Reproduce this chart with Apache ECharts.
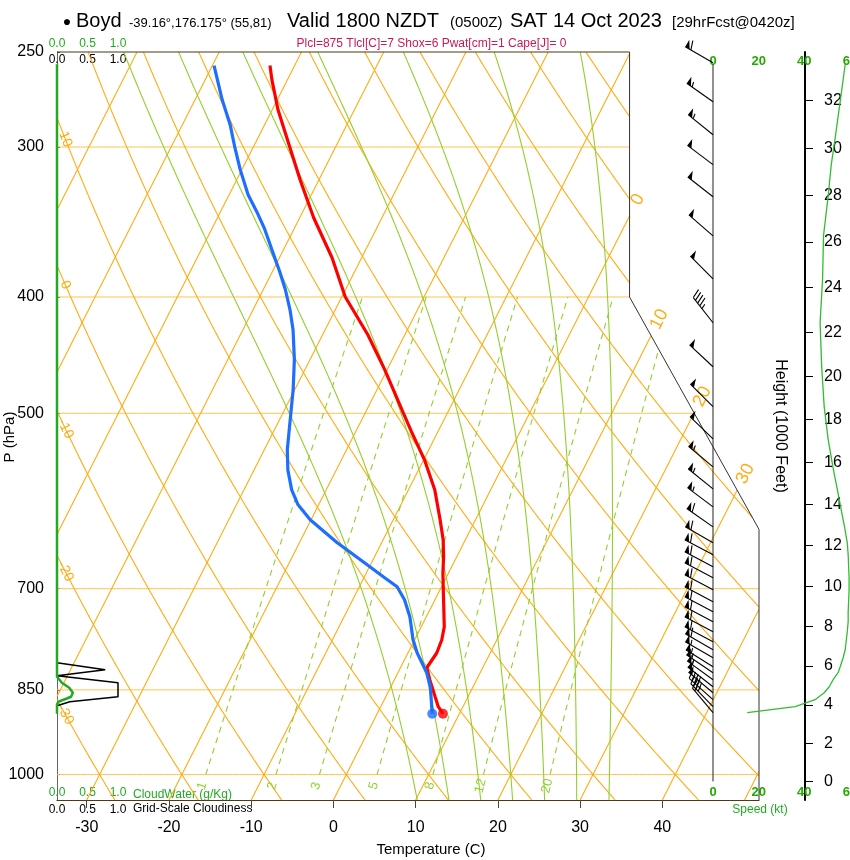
<!DOCTYPE html>
<html><head><meta charset="utf-8">
<script src="https://cdn.jsdelivr.net/npm/echarts@6/dist/echarts.min.js"></script>
<style>html,body{margin:0;padding:0;background:#fff}#c{width:850px;height:860px}</style>
</head><body><div id="c"></div>
<script>
// ================= DATA =================
const TEMP_P = [889.8, 877.9, 861.3, 833.6, 814.7, 806.9, 791.6, 772.1, 753.1, 724.7, 701.5, 678.9, 658.4, 637.3, 613.4, 579.1, 546.7, 518.1, 499.4, 459.8, 430.1, 399.8, 371.0, 343.6, 319.4, 300.4, 279.3, 263.6, 256.6];
const TEMP_C = [8.0, 7.0, 6.0, 4.3, 3.2, 3.3, 3.5, 3.3, 2.8, 1.5, 0.4, -0.7, -1.6, -2.7, -4.3, -6.8, -9.9, -13.2, -15.4, -20.3, -24.5, -29.6, -33.6, -38.3, -42.3, -45.5, -49.3, -51.9, -53.0];
const DEWP_P = [889.8, 877.9, 844.9, 822.5, 806.9, 791.6, 772.1, 738.8, 715.1, 697.5, 684.2, 668.6, 649.6, 640.9, 613.4, 596.0, 579.1, 557.3, 536.3, 516.1, 496.6, 477.8, 451.1, 426.0, 410.0, 394.5, 381.1, 365.4, 350.3, 339.6, 328.7, 313.3, 300.4, 287.4, 274.0, 256.6];
const DEWP_C = [6.7, 6.2, 4.8, 3.5, 2.3, 1.1, -0.2, -2.0, -3.7, -5.4, -7.7, -10.4, -13.8, -15.4, -20.1, -22.5, -24.2, -25.9, -27.2, -28.2, -29.2, -30.2, -31.9, -33.9, -35.5, -37.3, -39.1, -41.4, -43.7, -45.6, -47.7, -50.2, -52.2, -54.2, -56.7, -59.8];
const WIND_P = [255.2, 275.0, 293.0, 310.3, 330.0, 355.7, 386.3, 420.3, 457.3, 493.7, 525.1, 554.1, 578.0, 598.3, 621.7, 640.9, 655.9, 671.2, 685.6, 701.5, 717.8, 731.7, 745.9, 760.3, 775.0, 787.0, 799.2, 813.1, 822.5, 833.6, 844.9, 854.7, 866.2, 877.9, 888.1];
const WIND_KT = [58, 55.7, 53.7, 51.8, 50.4, 48.4, 48.0, 46.9, 47.6, 48.7, 50.4, 52.5, 54.4, 55.9, 57.6, 58.8, 59.2, 59.4, 59.6, 59.6, 59.4, 59.2, 59.2, 58.8, 58.3, 57.9, 57.0, 55.7, 54.8, 52.6, 50.9, 48.7, 44.7, 36.0, 15.0];
const WIND_DIR = [300, 305, 309, 307, 308, 311, 315, 322, 313, 315, 314, 310, 309, 307, 305, 300, 298, 298, 298, 298, 298, 298, 298, 298, 298, 300, 300, 302, 304, 306, 308, 310, 312, 316, 320];
const CLDW_P = [256, 300, 400, 500, 600, 700, 800, 828.8, 838.4, 846.6, 854.7, 861.3, 864.6, 869.6, 874.6, 890];
const CLDW_V = [0, 0, 0, 0, 0, 0, 0, 0, 0.08, 0.2, 0.26, 0.23, 0.15, 0.02, 0, 0];
const CLDF_P = [806.9, 818.0, 827.2, 838.4, 861.3, 869.5, 876.2];
const CLDF_V = [0, 0.79, 0, 1.0, 1.0, 0.21, 0];

const P_TICKS = [250, 300, 400, 500, 700, 850, 1000];
const T_TICKS = [-30, -20, -10, 0, 10, 20, 30, 40];
const H_TICKS = [0, 2, 4, 6, 8, 10, 12, 14, 16, 18, 20, 22, 24, 26, 28, 30, 32];
const SPEED_TICKS = [0, 20, 40, 60];
const CLOUD_TICKS = [0, 0.5, 1.0];

const ISOTHERMS = [-100, -90, -80, -70, -60, -50, -40, -30, -20, -10, 0, 10, 20, 30, 40, 50];
const DRY_ADIABATS = [-30, -20, -10, 0, 10, 20, 30, 40, 50, 60, 70, 80, 90, 100, 110, 120];
const MOIST_ADIABATS = [8, 12, 16, 20, 24, 28, 32];
const MIX_RATIOS = [1, 2, 3, 5, 8, 12, 20];
const ISOBARS = [300, 400, 500, 700, 850, 1000];
const ISOTHERM_LABELS = [0, 10, 20, 30];
const DRY_LABELS = [-30, -20, -10, 0, 10];

// ================= skew-T projection (NCL skewT) =================
const yU = p => 132.182 - 44.061 * Math.log10(p);
const xU = (t, p) => 0.54 * t + 0.90692 * yU(p);
const pFromY = y => Math.pow(10, (132.182 - y) / 44.061);
const XL = -19.0, XR = 27.1, XN = 18.6, YB = -0.9346217, YT = yU(250), YN = 17.53, YD = 9.0;

function esat(t) { return 6.1078 * Math.exp(17.2693882 * t / (t + 237.3)); }
function wmix(t, p) { const e = esat(t); return 622 * e / (p - e); }
function osK(t, p) { const tk = t + 273.15; return tk * Math.pow(1000 / p, 0.286) * Math.exp(2.6518986 * wmix(t, p) / tk); }
function tsa(os, p) { let lo = -120, hi = 60; for (let i = 0; i < 50; i++) { const m = (lo + hi) / 2; if (osK(m, p) > os) hi = m; else lo = m; } return (lo + hi) / 2; }
function tmr(w, p) { const x = Math.log10(w * p / (622 + w)); return Math.pow(10, 0.0498646455 * x + 2.4082965) - 7.07475 + 38.9114 * Math.pow(Math.pow(10, 0.0915 * x) - 1.2035, 2) - 273.15; }
function dryT(th, p) { return (th + 273.15) * Math.pow(p / 1000, 0.286) - 273.15; }
function pSamples(p1, p2, n) { const a = []; for (let i = 0; i <= n; i++) a.push(Math.exp(Math.log(p1) + (Math.log(p2) - Math.log(p1)) * i / n)); return a; }

function inside(q) {
  const x = q[0], y = q[1], e = 1e-7;
  if (x < XL - e || x > XR + e || y < YB - e || y > YT + e) return false;
  if (x > XN + e) { const yd = YN + (x - XN) * (YD - YN) / (XR - XN); if (y > yd + e) return false; }
  return true;
}
function clipLine(pts) {
  const segs = []; let cur = null;
  for (let i = 0; i < pts.length; i++) {
    const a = pts[i], ina = inside(a);
    if (i > 0) {
      const b = pts[i - 1], inb = inside(b);
      if (ina !== inb) {
        let lo = 0, hi = 1;
        for (let k = 0; k < 40; k++) { const m = (lo + hi) / 2; const q = [b[0] + (a[0] - b[0]) * m, b[1] + (a[1] - b[1]) * m]; if (inside(q) === inb) lo = m; else hi = m; }
        const t = (lo + hi) / 2, c = [b[0] + (a[0] - b[0]) * t, b[1] + (a[1] - b[1]) * t];
        if (inb) { if (cur) { cur.push(c); if (cur.length > 1) segs.push(cur); } cur = null; } else { cur = [c]; }
      }
    }
    if (ina) { if (!cur) cur = []; cur.push(a); }
  }
  if (cur && cur.length > 1) segs.push(cur);
  return segs;
}
const PS = pSamples(1050, 250, 240);
const isobarLines = [], isothermLines = [], dryLines = [], moistLines = [], mixLines = [];
ISOBARS.forEach(p => { const pts = []; for (let i = 0; i <= 300; i++) pts.push([XL + (XR - XL) * i / 300, yU(p)]); isobarLines.push(...clipLine(pts)); });
ISOTHERMS.forEach(t => isothermLines.push(...clipLine(PS.map(p => [xU(t, p), yU(p)]))));
DRY_ADIABATS.forEach(th => dryLines.push(...clipLine(PS.map(p => [xU(dryT(th, p), p), yU(p)]))));
MOIST_ADIABATS.forEach(t0 => { const os = osK(t0, 1000); moistLines.push(...clipLine(PS.map(p => [xU(tsa(os, p), p), yU(p)]))); });
MIX_RATIOS.forEach(w => mixLines.push(...clipLine(pSamples(1000, 400, 120).map(p => [xU(tmr(w, p), p), yU(p)]))));

const ORANGE = '#FFAC12', GREEN = '#93CF2C', FONT = 'Liberation Sans, Arial, Helvetica, sans-serif';
const labels = [];
ISOTHERM_LABELS.forEach(t => {
  const f = y => [0.54 * t + 0.90692 * y, y];
  let yExit = null, prevIn = false, prevY = YB;
  for (let i = 0; i <= 400; i++) {
    const y = YB + (YT - YB) * i / 400, ins = inside(f(y));
    if (prevIn && !ins) { let lo = prevY, hi = y; for (let k = 0; k < 40; k++) { const m = (lo + hi) / 2; if (inside(f(m))) lo = m; else hi = m; } yExit = (lo + hi) / 2; }
    prevIn = ins; prevY = y;
  }
  if (yExit !== null) { const yl = yExit + 0.6; labels.push({ pos: f(yl), dir: f(yl + 1), text: String(t), color: ORANGE, size: 18 }); }
});
DRY_LABELS.forEach(th => {
  const f = p => [xU(dryT(th, p), p), yU(p)], XT = -18.45;
  if (f(1050)[0] < XT || f(250)[0] > XT) return;
  let lo = Math.log(250), hi = Math.log(1050);
  for (let k = 0; k < 50; k++) { const m = (lo + hi) / 2; if (f(Math.exp(m))[0] < XT) lo = m; else hi = m; }
  const p = Math.exp((lo + hi) / 2);
  labels.push({ pos: f(p), dir: f(p * 1.05), text: String(th), color: ORANGE, size: 14 });
});
MIX_RATIOS.forEach(w => labels.push({ pos: [xU(tmr(w, 1022), 1022), yU(1022)], dir: [xU(tmr(w, 990), 990), yU(990)], text: String(w), color: GREEN, size: 13 }));

function polySeries(lines, style, z) {
  return { type: 'custom', coordinateSystem: 'cartesian2d', xAxisIndex: 0, yAxisIndex: 0, z: z, silent: true, animation: false,
    data: lines.map(() => [0, 10]),
    renderItem: (params, api) => ({ type: 'polyline', silent: true, shape: { points: lines[params.dataIndex].map(q => api.coord(q)) }, style: Object.assign({ fill: null }, style) }) };
}
const hToY = h => { const m = h * 304.8; return yU(1013.25 * Math.pow(1 - 2.25577e-5 * m, 5.25588)); };
const yToKft = y => (1 - Math.pow(pFromY(y) / 1013.25, 1 / 5.25588)) / 2.25577e-5 / 304.8;
const xBot = t => 0.54 * t + 0.90692 * YB;

function barbRender(params, api) {
  const base = api.coord([api.value(0), api.value(1)]);
  const d = api.value(2) * Math.PI / 180, spd = api.value(3);
  const ux = Math.sin(d), uy = -Math.cos(d), L = 32, px = -uy, py = ux;
  const tip = [base[0] + ux * L, base[1] + uy * L];
  const st = { stroke: '#000', lineWidth: 1.1 };
  const ch = [{ type: 'line', shape: { x1: base[0], y1: base[1], x2: tip[0], y2: tip[1] }, style: st }];
  let r = Math.round(spd / 5) * 5, pos = 0;
  const at = s => [tip[0] - ux * s, tip[1] - uy * s];
  while (r >= 50) { const a = at(pos), b = at(pos + 5); ch.push({ type: 'polygon', shape: { points: [a, b, [a[0] + px * 8, a[1] + py * 8]] }, style: { fill: '#000' } }); pos += 6.5; r -= 50; }
  while (r >= 10) { const a = at(pos); ch.push({ type: 'line', shape: { x1: a[0], y1: a[1], x2: a[0] + px * 9 + ux * 3, y2: a[1] + py * 9 + uy * 3 }, style: st }); pos += 3.5; r -= 10; }
  if (r >= 5) { if (pos === 0) pos = 3.5; const a = at(pos); ch.push({ type: 'line', shape: { x1: a[0], y1: a[1], x2: a[0] + px * 5 + ux * 1.7, y2: a[1] + py * 5 + uy * 1.7 }, style: st }); }
  return { type: 'group', children: ch };
}
function txt(x, y, text, size, color, align, rot) {
  return { type: 'text', x: x, y: y, rotation: rot || 0, silent: true,
    style: { text: text, fill: color || '#000', fontSize: size, fontFamily: FONT, font: size + 'px ' + FONT, align: align || 'left', textAlign: align || 'left', verticalAlign: 'middle', textVerticalAlign: 'middle' } };
}
const hidden = { show: false };
const noSplit = { show: false };
function cloudAxis(pos, inside, color, margin) {
  return { gridIndex: 3, type: 'value', min: 0, max: 1, position: pos, axisLine: { show: false, onZero: false }, axisTick: hidden, splitLine: noSplit,
    axisLabel: { inside: inside, customValues: CLOUD_TICKS, formatter: v => v.toFixed(1), color: color, fontSize: 12, margin: margin, fontFamily: FONT } };
}
const G = (l, r) => ({ left: l, right: r, top: 52, bottom: 60, outerBoundsMode: 'none', containLabel: false });

const option = {
  animation: false, backgroundColor: '#fff', textStyle: { fontFamily: FONT },
  grid: [G(57, 91), G(713, 0), G(700, 45), G(57, 732)],
  xAxis: [
    { gridIndex: 0, type: 'value', min: XL, max: XR, position: 'bottom', splitLine: noSplit,
      axisLine: { show: true, onZero: false, lineStyle: { color: '#4D3A12', width: 1.2 } },
      axisTick: { show: true, inside: false, length: 8, customValues: T_TICKS.map(xBot), lineStyle: { color: '#444' } },
      axisLabel: { customValues: T_TICKS.map(xBot), formatter: v => String(Math.round((v - 0.90692 * YB) / 0.54)), fontSize: 16, color: '#000', margin: 20, fontFamily: FONT } },
    { gridIndex: 1, type: 'value', min: 0, max: 60, position: 'top', axisLine: { show: false, onZero: false }, axisTick: hidden, splitLine: noSplit,
      axisLabel: { inside: true, customValues: SPEED_TICKS, color: '#22AA00', fontWeight: 'bold', fontSize: 13, margin: 3, fontFamily: FONT } },
    { gridIndex: 1, type: 'value', min: 0, max: 60, position: 'bottom', axisLine: { show: false, onZero: false }, axisTick: hidden, splitLine: noSplit,
      axisLabel: { inside: true, customValues: SPEED_TICKS, color: '#22AA00', fontWeight: 'bold', fontSize: 13, margin: 1, fontFamily: FONT } },
    { gridIndex: 2, type: 'value', min: 0, max: 1, show: false, splitLine: noSplit, axisLine: { onZero: false } },
    cloudAxis('top', false, '#22AA22', 2),
    cloudAxis('top', true, '#000', 2),
    cloudAxis('bottom', true, '#22AA22', 1),
    cloudAxis('bottom', false, '#000', 4)
  ],
  yAxis: [
    { gridIndex: 0, type: 'value', min: YB, max: YT, splitLine: noSplit,
      axisLine: { show: true, onZero: false, lineStyle: { color: '#666' } },
      axisTick: { show: true, inside: true, length: 3, customValues: P_TICKS.map(yU), lineStyle: { color: '#444' } },
      axisLabel: { customValues: P_TICKS.map(yU), formatter: v => String(Math.round(pFromY(v))), fontSize: 16, color: '#000', margin: 13, fontFamily: FONT } },
    { gridIndex: 1, type: 'value', min: YB, max: YT, show: false, splitLine: noSplit, axisLine: { onZero: false } },
    { gridIndex: 2, type: 'value', min: YB, max: YT, position: 'right', splitLine: noSplit,
      axisLine: { show: true, onZero: false, lineStyle: { color: '#000', width: 2 } },
      axisTick: { show: true, inside: false, length: 8, customValues: H_TICKS.map(hToY), lineStyle: { color: '#000' } },
      axisLabel: { customValues: H_TICKS.map(hToY), formatter: v => String(Math.round(yToKft(v))), fontSize: 16, color: '#000', margin: 19, fontFamily: FONT } },
    { gridIndex: 3, type: 'value', min: YB, max: YT, show: false, splitLine: noSplit, axisLine: { onZero: false } }
  ],
  series: [
    polySeries(isobarLines, { stroke: '#FFC24A', lineWidth: 1 }, 1),
    polySeries(isothermLines, { stroke: ORANGE, lineWidth: 1.1 }, 1),
    polySeries(dryLines, { stroke: ORANGE, lineWidth: 1.1 }, 1),
    polySeries(moistLines, { stroke: GREEN, lineWidth: 1.1 }, 2),
    polySeries(mixLines, { stroke: GREEN, lineWidth: 1.1, lineDash: [6, 5] }, 2),
    { type: 'custom', coordinateSystem: 'cartesian2d', xAxisIndex: 0, yAxisIndex: 0, z: 3, silent: true,
      data: labels.map(() => [0, 10]),
      renderItem: (params, api) => {
        const L = labels[params.dataIndex]; const a = api.coord(L.pos), b = api.coord(L.dir);
        return txt(a[0], a[1], L.text, L.size, L.color, 'center', Math.atan2(-(b[1] - a[1]), b[0] - a[0]));
      } },
    { type: 'line', xAxisIndex: 0, yAxisIndex: 0, z: 4, clip: false, symbol: 'none', silent: true,
      data: [[XL, YT], [XN, YT]], lineStyle: { color: '#4D3A12', width: 1.2 } },
    { type: 'line', xAxisIndex: 0, yAxisIndex: 0, z: 4, clip: false, symbol: 'none', silent: true,
      data: [[XN, YT], [XN, YN], [XR, YD], [XR, YB]], lineStyle: { color: '#333', width: 1 } },
    { type: 'line', xAxisIndex: 5, yAxisIndex: 3, z: 5, clip: false, symbol: 'none', silent: true,
      data: CLDF_P.map((p, i) => [CLDF_V[i], yU(p)]), lineStyle: { color: '#000', width: 1.5 } },
    { type: 'line', xAxisIndex: 4, yAxisIndex: 3, z: 6, clip: false, symbol: 'none', silent: true,
      data: CLDW_P.map((p, i) => [CLDW_V[i], yU(p)]), lineStyle: { color: '#22AA22', width: 2.5 } },
    { type: 'line', xAxisIndex: 0, yAxisIndex: 0, z: 8, symbol: 'none', silent: true,
      data: TEMP_P.map((p, i) => [xU(TEMP_C[i], p), yU(p)]), lineStyle: { color: '#FF0000', width: 3.2 } },
    { type: 'line', xAxisIndex: 0, yAxisIndex: 0, z: 8, symbol: 'none', silent: true,
      data: DEWP_P.map((p, i) => [xU(DEWP_C[i], p), yU(p)]), lineStyle: { color: '#1E6EFF', width: 3.2 } },
    { type: 'scatter', xAxisIndex: 0, yAxisIndex: 0, z: 9, silent: true, symbolSize: 10,
      data: [[xU(TEMP_C[0], TEMP_P[0]), yU(TEMP_P[0])]], itemStyle: { color: '#FF0000' } },
    { type: 'scatter', xAxisIndex: 0, yAxisIndex: 0, z: 9, silent: true, symbolSize: 10,
      data: [[xU(DEWP_C[0], DEWP_P[0]), yU(DEWP_P[0])]], itemStyle: { color: '#1E6EFF' } },
    { type: 'line', xAxisIndex: 1, yAxisIndex: 1, z: 4, clip: false, symbol: 'none', silent: true,
      data: [[0, yU(1013.25)], [0, yU(256)]], lineStyle: { color: '#222', width: 1 } },
    { type: 'line', xAxisIndex: 1, yAxisIndex: 1, z: 5, clip: false, symbol: 'none', silent: true,
      data: WIND_P.map((p, i) => [WIND_KT[i], yU(p)]), lineStyle: { color: '#33BB33', width: 1.3 } },
    { type: 'custom', coordinateSystem: 'cartesian2d', xAxisIndex: 1, yAxisIndex: 1, z: 7, silent: true,
      data: WIND_P.map((p, i) => [0, yU(p), WIND_DIR[i], WIND_KT[i]]), renderItem: barbRender }
  ],
  graphic: [
    txt(67, 22, '●', 14, '#000', 'center'),
    txt(76, 21.5, 'Boyd', 20),
    txt(129, 23, '-39.16°,176.175° (55,81)', 13),
    txt(287, 21.5, 'Valid 1800 NZDT', 20),
    txt(450, 23, '(0500Z)', 15),
    txt(510, 21.5, 'SAT 14 Oct 2023', 20),
    txt(672, 23, '[29hrFcst@0420z]', 15),
    txt(431.5, 43.5, 'Plcl=875 Tlcl[C]=7 Shox=6 Pwat[cm]=1 Cape[J]= 0', 12, '#C8195A', 'center'),
    txt(10, 437, 'P (hPa)', 15, '#000', 'center', Math.PI / 2),
    txt(431, 850, 'Temperature (C)', 15, '#000', 'center'),
    txt(133, 795, 'CloudWater (g/Kg)', 12, '#22AA22'),
    txt(133, 809, 'Grid-Scale Cloudiness', 12, '#000'),
    txt(760, 810, 'Speed (kt)', 12, '#22AA22', 'center'),
    txt(780, 426, 'Height (1000 Feet)', 16, '#000', 'center', -Math.PI / 2)
  ]
};
const chart = echarts.init(document.getElementById('c'), null, { renderer: 'canvas' });
chart.setOption(option);
</script>
</body></html>
